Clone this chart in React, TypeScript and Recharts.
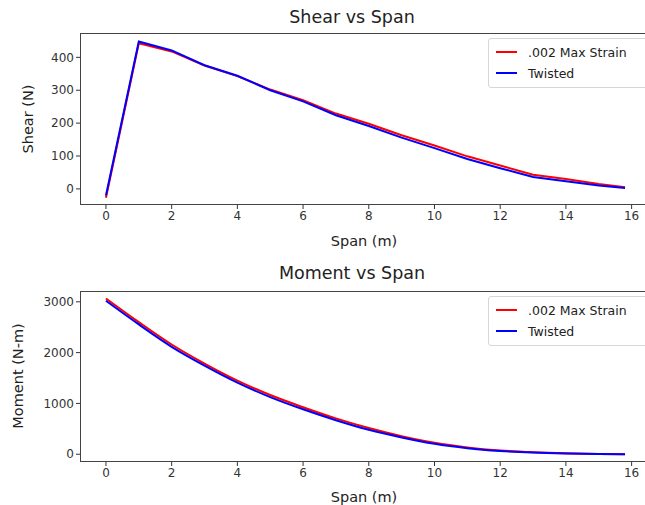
import React from "react";
import { LineChart, Line, XAxis, YAxis } from "recharts";

// span positions along the blade (m)
const span = [0, 1, 2, 3, 4, 5, 6, 7, 8, 9, 10, 11, 12, 13, 14, 15, 15.8];

// shear (N)
const shearStrain = [-27, 443, 418, 375, 343, 302, 270, 229, 198, 163, 132, 99, 71, 43, 30, 15, 5];
const shearTwisted = [-20, 448, 421, 376, 344, 300, 266, 224, 191, 156, 124, 91, 63, 36, 23, 10, 3];

// moment (N-m)
const momentStrain = [3065, 2600, 2160, 1785, 1450, 1165, 925, 705, 515, 355, 225, 135, 75, 40, 18, 6, 0];
const momentTwisted = [3020, 2555, 2115, 1745, 1410, 1125, 885, 670, 480, 330, 205, 120, 65, 32, 14, 4, 0];

const xTicks = [0, 2, 4, 6, 8, 10, 12, 14, 16];
const shearTicks = [0, 100, 200, 300, 400];
const momentTicks = [0, 1000, 2000, 3000];

const seriesNames = [".002 Max Strain", "Twisted"];
const seriesColors = ["#ff0000", "#0000ff"];

const FONT = "'DejaVu Sans', sans-serif";

const shearData = span.map((x, i) => ({ x, a: shearStrain[i], b: shearTwisted[i] }));
const momentData = span.map((x, i) => ({ x, a: momentStrain[i], b: momentTwisted[i] }));

const tickStyle = { fontSize: 12, fill: "#333", fontFamily: FONT };

function Legend({ top }: { top: number }) {
  return (
    <div
      style={{
        position: "absolute",
        left: 488,
        top,
        width: 170,
        height: 50,
        border: "1px solid #d6d6d6",
        borderRadius: 3,
        background: "rgba(255,255,255,0.8)",
        boxSizing: "border-box",
      }}
    >
      {seriesNames.map((name, i) => (
        <div
          key={name}
          style={{ position: "absolute", left: 7, top: 5 + i * 21, height: 16, display: "flex", alignItems: "center" }}
        >
          <div style={{ width: 21, height: 2, background: seriesColors[i] }} />
          <span style={{ marginLeft: 11, fontSize: 12.5, color: "#222", whiteSpace: "nowrap" }}>{name}</span>
        </div>
      ))}
    </div>
  );
}

function Text({ x, y, size, children, rotate }: { x: number; y: number; size: number; children: string; rotate?: boolean }) {
  return (
    <div
      style={{
        position: "absolute",
        left: x,
        top: y,
        transform: `translate(-50%, -50%)${rotate ? " rotate(-90deg)" : ""}`,
        fontSize: size,
        color: "#222",
        whiteSpace: "nowrap",
        lineHeight: 1,
      }}
    >
      {children}
    </div>
  );
}

function Panel({
  top,
  height,
  plotTop,
  plotBottom,
  data,
  domain,
  ticks,
  curve,
}: {
  top: number;
  height: number;
  plotTop: number;
  plotBottom: number;
  data: { x: number; a: number; b: number }[];
  domain: [number, number];
  ticks: number[];
  curve: "linear" | "monotone";
}) {
  return (
    <div style={{ position: "absolute", left: 0, top, width: 660, height }}>
      <LineChart
        width={660}
        height={height}
        data={data}
        margin={{ top: plotTop, right: 9, bottom: 0, left: 0 }}
      >
        <XAxis
          type="number"
          dataKey="x"
          domain={[-0.79, 16.59]}
          ticks={xTicks}
          allowDataOverflow
          axisLine={false}
          tickSize={4}
          tickLine={{ stroke: "#333" }}
          tick={tickStyle}
          height={height - plotBottom}
        />
        <YAxis
          type="number"
          domain={domain}
          ticks={ticks}
          allowDataOverflow
          axisLine={false}
          tickSize={4}
          tickLine={{ stroke: "#333" }}
          tick={tickStyle}
          width={80}
        />
        <Line type={curve} dataKey="a" stroke={seriesColors[0]} strokeWidth={2} dot={false} isAnimationActive={false} />
        <Line type={curve} dataKey="b" stroke={seriesColors[1]} strokeWidth={2} dot={false} isAnimationActive={false} />
      </LineChart>
      <div
        style={{
          position: "absolute",
          left: 80,
          top: plotTop,
          width: 571,
          height: plotBottom - plotTop,
          border: "1px solid #444",
          boxSizing: "border-box",
          pointerEvents: "none",
        }}
      />
    </div>
  );
}

export default function App() {
  return (
    <div
      style={{
        position: "absolute",
        left: 0,
        top: 0,
        width: 645,
        height: 505,
        overflow: "hidden",
        background: "#fff",
        fontFamily: FONT,
      }}
    >
      <Panel top={0} height={252} plotTop={33} plotBottom={205} data={shearData} domain={[-49, 474]} ticks={shearTicks} curve="linear" />
      <Panel top={256} height={249} plotTop={35} plotBottom={206} data={momentData} domain={[-153, 3213]} ticks={momentTicks} curve="monotone" />

      <Text x={352} y={18} size={17.5}>Shear vs Span</Text>
      <Text x={364} y={241} size={14.5}>Span (m)</Text>
      <Text x={28} y={119} size={14.5} rotate>Shear (N)</Text>
      <Legend top={38} />

      <Text x={352} y={274} size={17.5}>Moment vs Span</Text>
      <Text x={364} y={497} size={14.5}>Span (m)</Text>
      <Text x={18} y={376} size={14.5} rotate>Moment (N-m)</Text>
      <Legend top={296} />
    </div>
  );
}
